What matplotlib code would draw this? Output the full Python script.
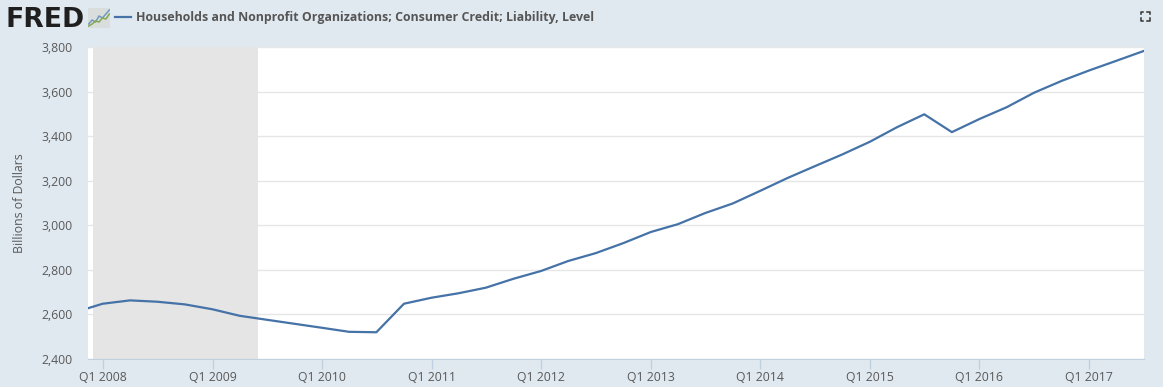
import matplotlib
matplotlib.use("Agg")
import matplotlib.pyplot as plt
import matplotlib.dates as mdates
import pandas as pd
from matplotlib.patches import Rectangle

# the first quarter sits left of the frame, the axes clip it
quarters = pd.date_range("2007-10-01", "2017-07-01", freq="QS")
values = [2610, 2648, 2663, 2657, 2645, 2623, 2594, 2576, 2558, 2540,
          2522, 2520, 2648, 2675, 2695, 2720, 2760, 2795, 2840, 2875,
          2920, 2970, 3005, 3055, 3098, 3155, 3212, 3265, 3318, 3375,
          3440, 3498, 3418, 3477, 3530, 3595, 3648, 3695, 3738, 3782]
recession = ["2007-12-01", "2009-06-01"]
y_ticks = [2400, 2600, 2800, 3000, 3200, 3400, 3600, 3800]
x_ticks = pd.date_range("2008-01-01", "2017-01-01", freq="YS")
x_labels = ["Q1 %d" % d.year for d in x_ticks]
title = "Households and Nonprofit Organizations; Consumer Credit; Liability, Level"

W, H = 1163, 387
bg = "#e1e9f0"
blue = "#4572a7"
grey = "#595959"

plt.rcParams["font.family"] = ["Open Sans", "DejaVu Sans"]

fig = plt.figure(figsize=(W / 100, H / 100), dpi=100, facecolor=bg)
ax = fig.add_axes([88 / W, 1 - 359 / H, (1144 - 88) / W, (359 - 47) / H])

ax.plot(quarters, values, color=blue, lw=1.6, zorder=3)
ax.axvspan(pd.Timestamp(recession[0]), pd.Timestamp(recession[1]), color="#e5e5e5", lw=0, zorder=1)

# tick at Q1 2008 is x=102.7, Q1 2017 is x=1089.3
t0 = mdates.date2num(x_ticks[0])
t1 = mdates.date2num(x_ticks[-1])
per_px = (t1 - t0) / (1089.3 - 102.7)
ax.set_xlim(t0 - (102.7 - 88) * per_px, t1 + (1144 - 1089.3) * per_px)
ax.set_ylim(2400, 3800)

ax.set_yticks(y_ticks)
ax.set_yticklabels([f"{v:,}" for v in y_ticks])
ax.set_xticks(x_ticks)
ax.set_xticklabels(x_labels)
ax.grid(axis="y", color="#e6e6e6", lw=1, zorder=0)
ax.tick_params(axis="y", length=0, pad=11, labelsize=8.8, labelcolor=grey)
ax.tick_params(axis="x", length=7, width=1, color="#c0d0e0", pad=1.5, labelsize=8.8, labelcolor=grey)
for s in ["top", "right", "left"]:
    ax.spines[s].set_visible(False)
ax.spines["bottom"].set_color("#c0d0e0")
ax.set_axisbelow(True)
ax.set_ylabel("Billions of Dollars", fontsize=8.8, color=grey)
ax.yaxis.set_label_coords((26 - 88) / (1144 - 88), 0.5)

# header
fig.text(5 / W, 1 - 27 / H, "FRED", fontsize=19.2, fontweight="bold", color="#1f1f1f",
         family="DejaVu Sans", va="baseline", ha="left")

# little logo next to the wordmark
logo = fig.add_axes([88 / W, 1 - 28 / H, 22 / W, 20 / H])
logo.add_patch(Rectangle((0, 0), 1, 1, transform=logo.transAxes, color="#d9dedd", zorder=0))
logo.plot([0, 1, 2, 3, 4, 5, 6], [2, 4, 3, 6, 5, 7, 9], color="#6f9ac0", lw=1.1)
logo.plot([0, 1, 2, 3, 4, 5, 6], [1, 2, 3.5, 3, 5, 4.5, 7], color="#86a850", lw=1.1)
logo.set_xlim(-0.2, 6.2)
logo.set_ylim(0, 10)
logo.axis("off")

fig.add_artist(plt.Line2D([115 / W, 131 / W], [1 - 17 / H, 1 - 17 / H], color=blue, lw=1.6))
fig.text(136.5 / W, 1 - 17 / H, title, fontsize=8.93, fontweight="bold", color="#555555", va="center")

# fullscreen icon in the corner
cx, cy, r, a = 1145, 16, 4.5, 2.5
for sx in (-1, 1):
    for sy in (-1, 1):
        xs = [cx + sx * r, cx + sx * r, cx + sx * (r - a)]
        ys = [cy + sy * (r - a), cy + sy * r, cy + sy * r]
        fig.add_artist(plt.Line2D([x / W for x in xs], [1 - y / H for y in ys], color="#333333", lw=1.1))

fig.savefig("out.png", dpi=100, facecolor=bg)
